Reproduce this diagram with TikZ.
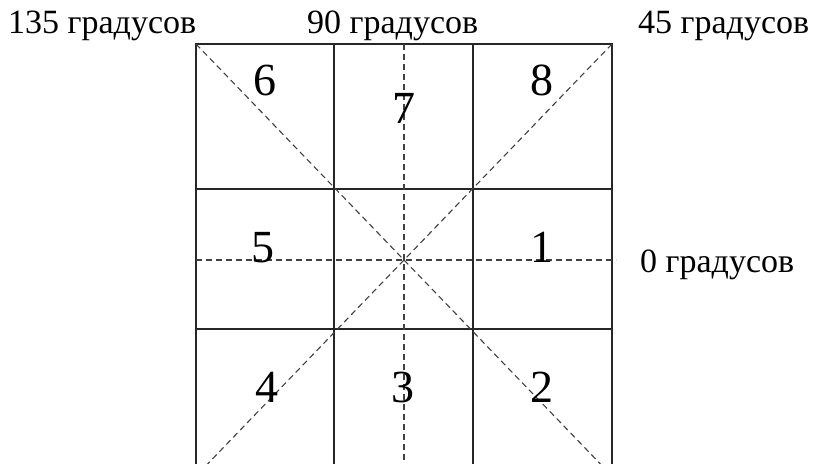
\documentclass[tikz,border=0pt]{standalone}
\usepackage{fontspec}
\setmainfont{Liberation Serif}
\usetikzlibrary{calc}
\tikzset{
  cellnum/.style={anchor=base,inner sep=0pt,font=\fontsize{46}{46}\selectfont},
  anglabel/.style={anchor=base west,inner sep=0pt,font=\fontsize{34}{34}\selectfont},
  guide/.style={dashed,dash pattern=on 6pt off 4pt,line width=1.1pt,black!75},
  gridline/.style={line width=1.3pt,black!85}
}
\begin{document}
\begin{tikzpicture}[x=1pt,y=-1pt]
    \useasboundingbox (0,0) rectangle (813,463);
    \clip (0,0) rectangle (813,463);
    % grid corners and centre (pixel coordinates)
    \coordinate (tl) at (196,44);
    \coordinate (tr) at (612,44);
    \coordinate (c) at (404,260);
    \coordinate (bl) at ($(tr)!2!(c)$);
    \coordinate (br) at ($(tl)!2!(c)$);
    \draw[gridline] (196,44) rectangle (612,480);
    \draw[gridline] (334,44) -- (334,480) (473,44) -- (473,480);
    \draw[gridline] (196,189) -- (612,189) (196,329) -- (612,329);
    \draw[guide] (tl) -- (br);
    \draw[guide] (tr) -- (bl);
    \draw[guide] (404,44) -- (404,470);
    \draw[guide] (196,260) -- (616,260);
    \node (n6) at (265,95) [cellnum] {6};
    \node (n7) at (404,123) [cellnum] {7};
    \node (n8) at (542,95) [cellnum] {8};
    \node (n5) at (263,262) [cellnum] {5};
    \node (n1) at (542,262) [cellnum] {1};
    \node (n4) at (267,402) [cellnum] {4};
    \node (n3) at (403,402) [cellnum] {3};
    \node (n2) at (542,402) [cellnum] {2};
    \node (a135) at (8,33) [anglabel] {135 градусов};
    \node (a90) at (307,33) [anglabel] {90 градусов};
    \node (a45) at (638,33) [anglabel] {45 градусов};
    \node (a0) at (640,272) [anglabel] {0 градусов};
\end{tikzpicture}
\end{document}
